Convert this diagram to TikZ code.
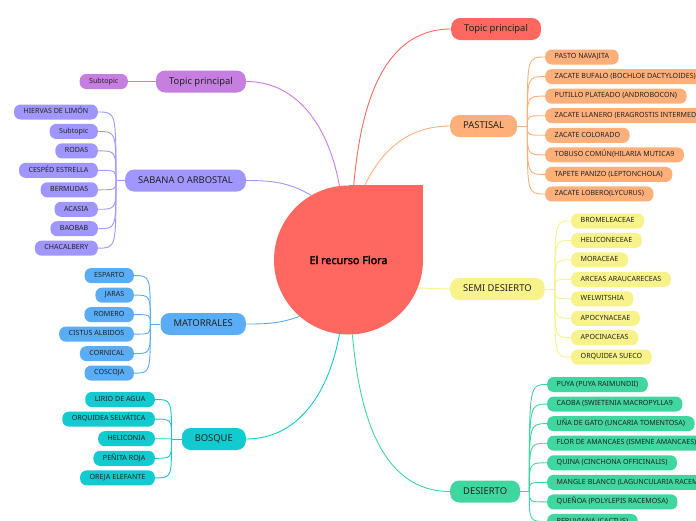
\documentclass[tikz,border=0pt]{standalone}
\usepackage{fontspec}
\setmainfont{Noto Sans}
\newfontfamily\floralabelfont{Noto Sans}[FakeBold=2.5]
\definecolor{FloraRed}{HTML}{FF6860}
\definecolor{TopicPurple}{HTML}{C67FE0}
\definecolor{SabanaLav}{HTML}{9F97FF}
\definecolor{MatBlue}{HTML}{5AADF5}
\definecolor{BosqueCyan}{HTML}{12CBD0}
\definecolor{PastOrange}{HTML}{FFB07A}
\definecolor{SemiYellow}{HTML}{F8F28A}
\definecolor{DesGreen}{HTML}{40D6A0}
\definecolor{TextDark}{HTML}{222222}

\tikzset{
  topic/.style={rounded corners=9pt, minimum height=22pt, inner xsep=13pt, inner ysep=0pt,
    text=TextDark, text height=7pt, text depth=2pt, font=\fontsize{9.4}{10}\selectfont},
  leaf/.style={rounded corners=6.5pt, minimum height=15pt, inner xsep=9.5pt, inner ysep=0pt,
    text=TextDark, text height=5pt, text depth=1.5pt, font=\fontsize{7.1}{8}\selectfont},
  branch/.style={line width=0.9pt}
}

\begin{document}
\begin{tikzpicture}[x=1pt,y=-1pt]
  \useasboundingbox (0,0) rectangle (696,520);
  \clip (0,0) rectangle (696,520);

  % centre and main topics
  \node[circle, minimum size=149pt, inner sep=0pt] (flora) at (348.5,260) {};
  \node[topic, fill=FloraRed, anchor=west] (tpR) at (451,29) {Topic principal};
  \node[topic, fill=TopicPurple, anchor=east] (tpL) at (246,81.5) {Topic principal};
  \node[topic, fill=SabanaLav, anchor=east] (sab) at (246,180.5) {SABANA O ARBOSTAL};
  \node[topic, fill=MatBlue, anchor=east] (mat) at (246,324) {MATORRALES};
  \node[topic, fill=BosqueCyan, anchor=east] (bos) at (246,439) {BOSQUE};
  \node[topic, fill=PastOrange, anchor=west] (past) at (450,126) {PASTISAL};
  \node[topic, fill=SemiYellow, anchor=west] (semi) at (450,289) {SEMI DESIERTO};
  \node[topic, fill=DesGreen, anchor=west] (des) at (450,491.5) {DESIERTO};

  \draw[branch, TopicPurple] (flora.97) to[out=100, in=0] (tpL.east);
  \draw[branch, FloraRed] (flora.86) to[out=85, in=180] (tpR.west);
  \draw[branch, PastOrange] (flora.78) to[out=65, in=180] (past.west);
  \draw[branch, SabanaLav] (flora.120) to[out=150, in=0] (sab.east);
  \draw[branch, MatBlue] (flora.229) to[out=200, in=0] (mat.east);
  \draw[branch, BosqueCyan] (flora.263) to[out=-100, in=0] (bos.east);
  \draw[branch, DesGreen] (flora.273) to[out=-85, in=180] (des.west);
  \draw[branch, SemiYellow] (flora.338) -- (semi.west);

  \fill[FloraRed] (flora.center) circle (74.5pt);
  \fill[FloraRed] (flora.north) rectangle (flora.east);
  \node[font=\floralabelfont\fontsize{10.8}{12}\selectfont, text=black] (floralabel) at (flora) {El recurso Flora};

  % purple topic
  \node[leaf, fill=TopicPurple, anchor=east] (tpLsub) at (128,81.5) {Subtopic};
  \draw[branch, TopicPurple] (tpL.west) -- (tpLsub.east);

  % sabana
  \coordinate (sabhub) at ([xshift=-9pt]sab.west);
  \draw[branch, SabanaLav] (sab.west) -- (sabhub);
  \foreach \txt [count=\i] in {{HIERVAS DE LIMÓN}, {Subtopic}, {RODAS}, {CESPÉD ESTRELLA},
      {BERMUDAS}, {ACASIA}, {BAOBAB}, {CHACALBERY}} {
    \node[leaf, fill=SabanaLav, anchor=east] (sab\i) at (98, {112+19.45*(\i-1)}) {\txt};
    \draw[branch, SabanaLav] (sabhub) .. controls (sabhub |- sab\i.east) .. (sab\i.east);
  }

  % matorrales
  \coordinate (mathub) at ([xshift=-10pt]mat.west);
  \draw[branch, MatBlue] (mat.west) -- (mathub);
  \foreach \txt [count=\i] in {{ESPARTO}, {JARAS}, {ROMERO}, {CISTUS ALBIDOS}, {CORNICAL}, {COSCOJA}} {
    \node[leaf, fill=MatBlue, anchor=east] (mat\i) at (134, {275.6+19.5*(\i-1)}) {\txt};
    \draw[branch, MatBlue] (mathub) .. controls (mathub |- mat\i.east) .. (mat\i.east);
  }

  % bosque
  \coordinate (boshub) at ([xshift=-10pt]bos.west);
  \draw[branch, BosqueCyan] (bos.west) -- (boshub);
  \foreach \txt [count=\i] in {{LIRIO DE AGUA}, {ORQUIDEA SELVÁTICA}, {HELICONIA}, {PEÑITA ROJA}, {OREJA ELEFANTE}} {
    \node[leaf, fill=BosqueCyan, anchor=east] (bos\i) at (155, {399.5+19.6*(\i-1)}) {\txt};
    \draw[branch, BosqueCyan] (boshub) .. controls (boshub |- bos\i.east) .. (bos\i.east);
  }

  % pastisal
  \coordinate (pasthub) at ([xshift=10pt]past.east);
  \draw[branch, PastOrange] (past.east) -- (pasthub);
  \foreach \txt [count=\i] in {{PASTO NAVAJITA}, {ZACATE BUFALO (BOCHLOE DACTYLOIDES)},
      {PUTILLO PLATEADO (ANDROBOCON)}, {ZACATE LLANERO (ERAGROSTIS INTERMEDIA)}, {ZACATE COLORADO},
      {TOBUSO COMÚN(HILARIA MUTICA9}, {TAPETE PANIZO (LEPTONCHOLA)}, {ZACATE LOBERO(LYCURUS)}} {
    \node[leaf, fill=PastOrange, anchor=west] (past\i) at (545, {57+19.57*(\i-1)}) {\txt};
    \draw[branch, PastOrange] (pasthub) .. controls (pasthub |- past\i.west) .. (past\i.west);
  }

  % semi desierto
  \coordinate (semihub) at ([xshift=10pt]semi.east);
  \draw[branch, SemiYellow] (semi.east) -- (semihub);
  \foreach \txt [count=\i] in {{BROMELEACEAE}, {HELICONECEAE}, {MORACEAE}, {ARCEAS ARAUCARECEAS},
      {WELWITSHIA}, {APOCYNACEAE}, {APOCINACEAS}, {ORQUIDEA SUECO}} {
    \node[leaf, fill=SemiYellow, anchor=west] (semi\i) at (571, {221+19.45*(\i-1)}) {\txt};
    \draw[branch, SemiYellow] (semihub) .. controls (semihub |- semi\i.west) .. (semi\i.west);
  }

  % desierto
  \coordinate (deshub) at ([xshift=9pt]des.east);
  \draw[branch, DesGreen] (des.east) -- (deshub);
  \foreach \txt [count=\i] in {{PUYA (PUYA RAIMUNDII)}, {CAOBA (SWIETENIA MACROPYLLA9},
      {UÑA DE GATO (UNCARIA TOMENTOSA)}, {FLOR DE AMANCAES (ISMENE AMANCAES)},
      {QUINA (CINCHONA OFFICINALIS)}, {MANGLE BLANCO (LAGUNCULARIA RACEMOSA)},
      {QUEÑOA (POLYLEPIS RACEMOSA)}, {PERUVIANA (CACTUS)}} {
    \node[leaf, fill=DesGreen, anchor=west] (des\i) at (547, {384.5+19.57*(\i-1)}) {\txt};
    \draw[branch, DesGreen] (deshub) .. controls (deshub |- des\i.west) .. (des\i.west);
  }
\end{tikzpicture}
\end{document}
